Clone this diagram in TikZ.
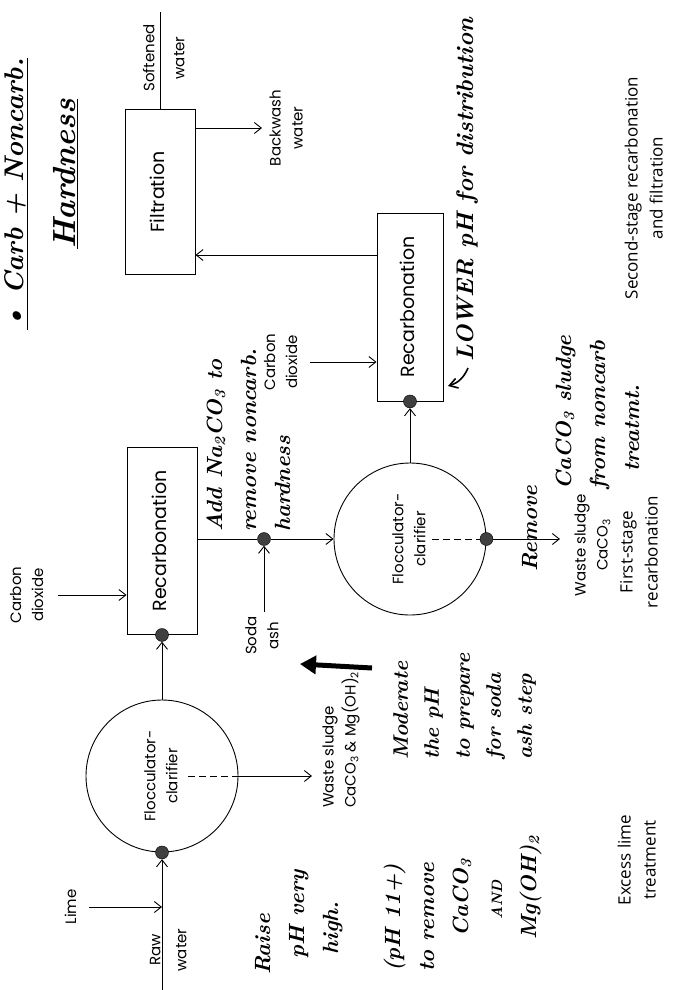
\documentclass[tikz,border=0pt]{standalone}
\usepackage{fontspec}
\usetikzlibrary{arrows.meta}
\newfontfamily\diagfont{Poppins}
\newfontfamily\stagefont{Open Sans}
\newcommand\handfont{\rmfamily\bfseries\itshape}
\newcommand\rotc[1]{\rotatebox{90}{\begin{tabular}{@{}c@{}}#1\end{tabular}}}
\newcommand\rotl[1]{\rotatebox{90}{\begin{tabular}{@{}l@{}}#1\end{tabular}}}
\tikzset{
  ln/.style={line width=0.9pt},
  flow/.style={ln, -{Straight Barb[length=7pt,width=11pt]}},
  procbox/.style={draw, ln, inner sep=0pt, font=\diagfont\fontsize{19}{22}\selectfont},
  tank/.style={draw, ln, circle, inner sep=0pt, minimum size=152pt, font=\diagfont\fontsize{15}{22}\selectfont},
  dot/.style={circle, fill=black!75, draw=black, inner sep=0pt, minimum size=13pt},
  lab/.style={inner sep=0pt, font=\diagfont\fontsize{15}{22}\selectfont},
  stage/.style={inner sep=0pt, font=\stagefont\fontsize{17}{25}\selectfont},
  hand/.style={inner sep=0pt, font=\handfont\fontsize{22}{34}\selectfont},
  handarrow/.style={line width=1.6pt, -{Straight Barb[length=8pt,width=10pt]}},
  thickarrow/.style={line width=5pt, -{Triangle[length=16pt,width=18pt]}},
}
\begin{document}
\begin{tikzpicture}[x=1pt,y=-1pt]
\useasboundingbox (0,0) rectangle (675,990);
% process units
\node[procbox, minimum width=70pt, minimum height=165pt] (filt) at (160,192) {\rotc{Filtration}};
\node[procbox, minimum width=70pt, minimum height=187pt] (rc1) at (162,541) {\rotc{Recarbonation}};
\node[procbox, minimum width=66pt, minimum height=188pt] (rc2) at (410,307) {\rotc{Recarbonation}};
\node[tank] (fc1) at (162,776) {\rotc{Flocculator-\\clarifier}};
\node[tank] (fc2) at (410,539) {\rotc{Flocculator-\\clarifier}};
% junction dots
\node[dot] (d1) at (fc1.south) {};
\node[dot] (d2) at (rc1.south) {};
\node[dot] (d3) at (rc2.south) {};
\node[dot] (d4) at (fc2.east) {};
\node[dot] (d5) at (264,539) {};
% free ends
\coordinate (rawin) at (162,992);
\coordinate (limein) at (89,907);
\coordinate (co1) at (58,595);
\coordinate (soda) at (264,612);
\coordinate (co2) at (310,362);
\coordinate (bw) at (262,128);
\coordinate (sw) at (160,12);
\coordinate (w1) at (312,776);
\coordinate (w2) at (560,539);
% connectors
\draw[flow] (rawin) -- (d1);
\draw[flow] (limein) -- (limein -| d1);
\draw[flow] (fc1) -- (d2);
\draw[flow] (co1) -- (co1 -| rc1.west);
\draw[ln] (rc1.east |- d5) -- (d5);
\draw[flow] (d5) -- (fc2);
\draw[flow] (soda) -- (d5);
\draw[flow] (fc2) -- (d3);
\draw[flow] (co2) -- (co2 -| rc2.west);
\draw[flow] ([yshift=52pt]rc2.west) -- ([yshift=52pt]rc2.west -| filt.east);
\draw[flow] (bw -| filt.east) -- (bw);
\draw[ln] (filt.north) -- (sw);
\draw[flow] (fc1.east) -- (w1);
\draw[ln, dash pattern=on 7pt off 4pt] ([xshift=26pt]fc1.center) -- (fc1.east);
\draw[flow] (d4) -- (w2);
\draw[ln, dash pattern=on 7pt off 4pt] ([xshift=22pt]fc2.center) -- (d4);
% printed labels
\node[lab, anchor=east] (l1) at ([xshift=-8pt]co1) {\rotc{Carbon\\dioxide}};
\node[lab, anchor=east] (l2) at ([xshift=-6pt]co2) {\rotc{Carbon\\dioxide}};
\node[lab, anchor=east] (l3) at ([xshift=-6pt]limein) {\rotc{Lime}};
\node[lab] (l4) at (169,950) {\rotc{Raw\\[4pt]water}};
\node[lab] (l5) at (165,58) {\rotc{Softened\\[8pt]water}};
\node[lab, anchor=west] (l6) at (265,128) {\rotc{Backwash\\water}};
\node[lab, anchor=north] (l7) at (263,616) {\rotc{Soda\\ash}};
\node[lab, anchor=south west] (l8) at (318,808) {\rotl{Waste sludge\\CaCO\textsubscript{3} \& Mg(OH)\textsubscript{2}}};
\node[lab, anchor=west] (l9) at (570,545) {\rotc{Waste sludge\\CaCO\textsubscript{3}}};
% stage captions
\node[stage] (s1) at (645,188) {\rotc{Second-stage recarbonation\\and filtration}};
\node[stage] (s2) at (640,552) {\rotc{First-stage\\recarbonation}};
\node[stage] (s3) at (638,860) {\rotc{Excess lime\\treatment}};
% handwritten notes
\node[hand, font=\handfont\fontsize{27}{29}\selectfont, anchor=south west] (t1) at (3,330) {\rotl{\underline{\textbullet\ Carb + Noncarb.}}};
\node[hand, font=\handfont\fontsize{32}{36}\selectfont, anchor=south west] (t2) at (50,249) {\rotl{\underline{Hardness}}};
\node[hand, font=\handfont\fontsize{24}{30}\selectfont, anchor=south] (n1) at (467,362) {\rotc{LOWER pH for distribution}};
\coordinate (hookA) at (468,368);
\coordinate (hookB) at (448,386);
\draw[handarrow] (hookA) to[bend left=25] (hookB);
\node[hand, anchor=south west] (n2) at (198,532) {\rotl{Add Na\textsubscript{2}CO\textsubscript{3} to\\remove noncarb.\\hardness}};
\node[hand, anchor=south west] (n3) at (513,572) {\rotl{Remove\\\hspace*{82pt}CaCO\textsubscript{3} sludge\\\hspace*{82pt}from noncarb\\\hspace*{100pt}treatmt.}};
\node[hand, anchor=south west] (n4) at (246,975) {\rotl{Raise\\\hspace*{16pt}pH very\\\hspace*{20pt}high.}};
\node[hand, anchor=south west] (n5) at (376,972) {\rotl{(pH 11+)\\to remove\\\hspace*{35pt}CaCO\textsubscript{3}\\\hspace*{52pt}{\fontsize{15}{15}\selectfont AND}\\\hspace*{32pt}Mg(OH)\textsubscript{2}}};
\node[hand, font=\handfont\fontsize{21}{31}\selectfont, anchor=south west] (n6) at (386,760) {\rotl{Moderate\\the pH\\to prepare\\for soda\\ash step}};
\coordinate (thA) at (372,668);
\coordinate (thB) at (300,664);
\draw[thickarrow] (thA) -- (thB);
\end{tikzpicture}
\end{document}
